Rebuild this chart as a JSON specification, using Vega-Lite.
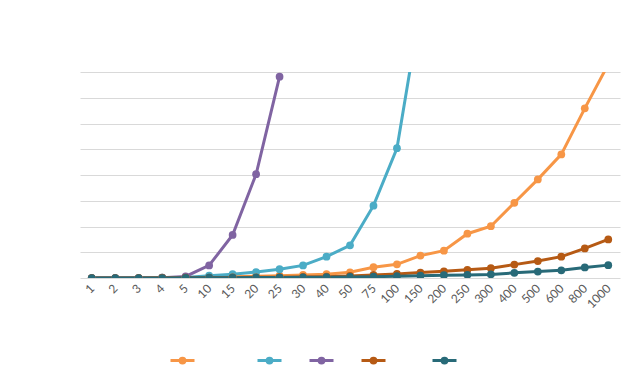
{
  "$schema": "https://vega.github.io/schema/vega-lite/v6.json",
  "width": 540,
  "height": 206,
  "autosize": {"type": "none"},
  "padding": {"left": 80, "top": 72, "right": 15, "bottom": 103},
  "background": "white",
  "config": {
    "view": {"stroke": null},
    "font": "Lato"
  },
  "data": {
    "values": [
      {"x": "1", "s": "A", "v": 0}, {"x": "2", "s": "A", "v": 0}, {"x": "3", "s": "A", "v": 0.5}, {"x": "4", "s": "A", "v": 1}, {"x": "5", "s": "A", "v": 2},
      {"x": "10", "s": "A", "v": 3}, {"x": "15", "s": "A", "v": 5}, {"x": "20", "s": "A", "v": 7}, {"x": "25", "s": "A", "v": 9}, {"x": "30", "s": "A", "v": 12},
      {"x": "40", "s": "A", "v": 15}, {"x": "50", "s": "A", "v": 22}, {"x": "75", "s": "A", "v": 42}, {"x": "100", "s": "A", "v": 53}, {"x": "150", "s": "A", "v": 87},
      {"x": "200", "s": "A", "v": 106}, {"x": "250", "s": "A", "v": 172}, {"x": "300", "s": "A", "v": 201}, {"x": "400", "s": "A", "v": 292}, {"x": "500", "s": "A", "v": 383},
      {"x": "600", "s": "A", "v": 480}, {"x": "800", "s": "A", "v": 659}, {"x": "1000", "s": "A", "v": 830},

      {"x": "1", "s": "B", "v": 0}, {"x": "2", "s": "B", "v": 0}, {"x": "3", "s": "B", "v": 0}, {"x": "4", "s": "B", "v": 1}, {"x": "5", "s": "B", "v": 2},
      {"x": "10", "s": "B", "v": 9}, {"x": "15", "s": "B", "v": 15}, {"x": "20", "s": "B", "v": 23}, {"x": "25", "s": "B", "v": 34}, {"x": "30", "s": "B", "v": 49},
      {"x": "40", "s": "B", "v": 83}, {"x": "50", "s": "B", "v": 127}, {"x": "75", "s": "B", "v": 281}, {"x": "100", "s": "B", "v": 504}, {"x": "150", "s": "B", "v": 1050},

      {"x": "1", "s": "C", "v": 0}, {"x": "2", "s": "C", "v": 0}, {"x": "3", "s": "C", "v": 0}, {"x": "4", "s": "C", "v": 1}, {"x": "5", "s": "C", "v": 6},
      {"x": "10", "s": "C", "v": 49}, {"x": "15", "s": "C", "v": 167}, {"x": "20", "s": "C", "v": 403}, {"x": "25", "s": "C", "v": 782},

      {"x": "1", "s": "D", "v": 0}, {"x": "2", "s": "D", "v": 0}, {"x": "3", "s": "D", "v": 0}, {"x": "4", "s": "D", "v": 0.5}, {"x": "5", "s": "D", "v": 1},
      {"x": "10", "s": "D", "v": 1.5}, {"x": "15", "s": "D", "v": 2}, {"x": "20", "s": "D", "v": 2.5}, {"x": "25", "s": "D", "v": 3}, {"x": "30", "s": "D", "v": 4},
      {"x": "40", "s": "D", "v": 5}, {"x": "50", "s": "D", "v": 8}, {"x": "75", "s": "D", "v": 12}, {"x": "100", "s": "D", "v": 16}, {"x": "150", "s": "D", "v": 21},
      {"x": "200", "s": "D", "v": 26}, {"x": "250", "s": "D", "v": 32}, {"x": "300", "s": "D", "v": 38}, {"x": "400", "s": "D", "v": 52}, {"x": "500", "s": "D", "v": 66},
      {"x": "600", "s": "D", "v": 83}, {"x": "800", "s": "D", "v": 115}, {"x": "1000", "s": "D", "v": 150},

      {"x": "1", "s": "E", "v": 0}, {"x": "2", "s": "E", "v": 0}, {"x": "3", "s": "E", "v": 0}, {"x": "4", "s": "E", "v": 0}, {"x": "5", "s": "E", "v": 0.5},
      {"x": "10", "s": "E", "v": 1}, {"x": "15", "s": "E", "v": 1}, {"x": "20", "s": "E", "v": 1.5}, {"x": "25", "s": "E", "v": 2}, {"x": "30", "s": "E", "v": 2.5},
      {"x": "40", "s": "E", "v": 3}, {"x": "50", "s": "E", "v": 4}, {"x": "75", "s": "E", "v": 5}, {"x": "100", "s": "E", "v": 7}, {"x": "150", "s": "E", "v": 9},
      {"x": "200", "s": "E", "v": 11}, {"x": "250", "s": "E", "v": 12}, {"x": "300", "s": "E", "v": 14}, {"x": "400", "s": "E", "v": 20}, {"x": "500", "s": "E", "v": 25},
      {"x": "600", "s": "E", "v": 30}, {"x": "800", "s": "E", "v": 41}, {"x": "1000", "s": "E", "v": 50}
    ]
  },
  "mark": {
    "type": "line",
    "strokeWidth": 3,
    "clip": true,
    "point": {"filled": true, "size": 60, "opacity": 1}
  },
  "encoding": {
    "x": {
      "field": "x",
      "type": "ordinal",
      "sort": ["1","2","3","4","5","10","15","20","25","30","40","50","75","100","150","200","250","300","400","500","600","800","1000"],
      "scale": {"type": "point", "padding": 0.5},
      "axis": {
        "title": null,
        "labelAngle": -45,
        "labelAlign": "right",
        "labelBaseline": "middle",
        "labelPadding": 8,
        "labelFontSize": 12,
        "labelColor": "#595959",
        "labelFont": "Lato",
        "ticks": false,
        "domain": true,
        "domainColor": "#D9D9D9",
        "domainWidth": 1,
        "grid": false
      }
    },
    "y": {
      "field": "v",
      "type": "quantitative",
      "scale": {"domain": [0, 800], "nice": false, "zero": true},
      "axis": {
        "title": null,
        "labels": false,
        "ticks": false,
        "domain": false,
        "grid": true,
        "gridColor": "#D9D9D9",
        "gridWidth": 1,
        "values": [100, 200, 300, 400, 500, 600, 700, 800]
      }
    },
    "color": {
      "field": "s",
      "type": "nominal",
      "scale": {
        "domain": ["A", "B", "C", "D", "E"],
        "range": ["#F79646", "#4BACC6", "#8064A2", "#B65A14", "#286A78"]
      },
      "legend": {
        "title": null,
        "orient": "none",
        "direction": "horizontal",
        "legendX": 89,
        "legendY": 275,
        "symbolType": "M-1,0L1,0M-0.2,0a0.2,0.2 0 1,0 0.4,0a0.2,0.2 0 1,0 -0.4,0",
        "symbolSize": 576,
        "symbolStrokeWidth": 3,
        "labelOffset": 0,
        "labelFontSize": 11,
        "labelFont": "DejaVu Sans Mono",
        "columnPadding": 15,
        "labelExpr": "datum.label == 'A' ? '\u2800\u2800\u2800\u2800\u2800' : datum.label == 'D' ? '\u2800\u2800\u2800' : ''",
        "encode": {
          "symbols": {
            "update": {
              "fill": {"scale": "color", "field": "value"},
              "fillOpacity": {"value": 1}
            }
          }
        }
      }
    }
  }
}
